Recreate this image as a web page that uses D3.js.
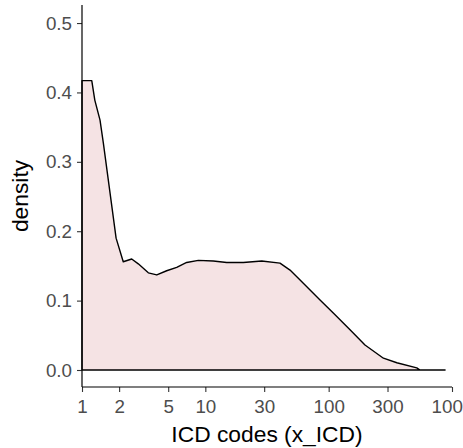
<!DOCTYPE html>
<html>
<head>
<meta charset="utf-8">
<script src="https://cdn.jsdelivr.net/npm/d3@7"></script>
<style>
  html, body { margin: 0; padding: 0; background: #fff; }
  svg { display: block; font-family: "Liberation Sans", Arial, sans-serif; }
</style>
</head>
<body>
<svg id="chart" width="463" height="448"></svg>
<script>
// Data (ICD codes on log scale, density values)
const icdCodes = [1, 1.20, 1.27, 1.40, 1.49, 1.89, 2.16, 2.53, 2.86, 3.45, 4.04, 4.86, 5.86, 7.06, 8.78, 11.6, 14.9, 20.3, 28.7, 40.3, 48.6, 62.3, 85.1, 109, 149, 197, 278, 357, 518, 551, 879];
const densityValues = [0.417, 0.417, 0.389, 0.360, 0.327, 0.190, 0.156, 0.160, 0.153, 0.140, 0.137, 0.143, 0.148, 0.155, 0.158, 0.157, 0.155, 0.155, 0.157, 0.154, 0.144, 0.125, 0.101, 0.082, 0.058, 0.036, 0.017, 0.0105, 0.003, 0.0, 0.0];
const xTicks = [1, 2, 5, 10, 30, 100, 300, 1000];
const xTickLabels = ["1", "2", "5", "10", "30", "100", "300", "1000"];
const yTicks = [0.0, 0.1, 0.2, 0.3, 0.4, 0.5];
const yTickLabels = ["0.0", "0.1", "0.2", "0.3", "0.4", "0.5"];

const svg = d3.select("#chart");
const mLeft = 82, mRight = 452, mTop = 5, mBottom = 387;

const x = d3.scaleLog().domain([1, 1000]).range([mLeft, mRight]);
const y = d3.scaleLinear().domain([-0.0245, 0.526]).range([mBottom, mTop]);

const data = icdCodes.map((d, i) => ({ x: d, y: densityValues[i] }));

// Closed polygon like ggplot geom_density
const poly = [{ x: data[0].x, y: 0 }, ...data, { x: data[data.length - 1].x, y: 0 }];
const line = d3.line().x(d => x(d.x)).y(d => y(d.y));

svg.append("path")
  .attr("d", line(poly) + "Z")
  .attr("fill", "#F5E3E4")
  .attr("stroke", "#000")
  .attr("stroke-width", 1.4)
  .attr("stroke-linejoin", "round");

// Axes
const xAxis = d3.axisBottom(x).tickValues(xTicks)
  .tickFormat((d, i) => xTickLabels[i]).tickSize(5).tickPadding(8).tickSizeOuter(0);
const yAxis = d3.axisLeft(y).tickValues(yTicks)
  .tickFormat((d, i) => yTickLabels[i]).tickSize(5).tickPadding(5).tickSizeOuter(0);

const gx = svg.append("g").attr("transform", `translate(0,${mBottom})`).call(xAxis);
const gy = svg.append("g").attr("transform", `translate(${mLeft},0)`).call(yAxis);

[gx, gy].forEach(g => {
  g.select(".domain").remove();
  g.selectAll(".tick line").attr("stroke", "#333").attr("stroke-width", 1.1);
  g.selectAll(".tick text").attr("fill", "#4D4D4D").style("font-size", "18.8px")
    .style("font-family", "'Liberation Sans', Arial, sans-serif");
});

// Axis lines
svg.append("line").attr("x1", mLeft).attr("x2", mLeft).attr("y1", mTop).attr("y2", mBottom)
  .attr("stroke", "#000").attr("stroke-width", 1.2);
svg.append("line").attr("x1", mLeft).attr("x2", mRight).attr("y1", mBottom).attr("y2", mBottom)
  .attr("stroke", "#000").attr("stroke-width", 1.2);

// Titles
svg.append("text")
  .attr("x", (mLeft + mRight) / 2).attr("y", 442)
  .attr("text-anchor", "middle")
  .style("font-size", "22.8px").attr("fill", "#000")
  .text("ICD codes (x_ICD)");

svg.append("text")
  .attr("transform", `translate(28,${(mTop + mBottom) / 2}) rotate(-90)`)
  .attr("text-anchor", "middle")
  .style("font-size", "22.8px").attr("fill", "#000")
  .text("density");
</script>
</body>
</html>
